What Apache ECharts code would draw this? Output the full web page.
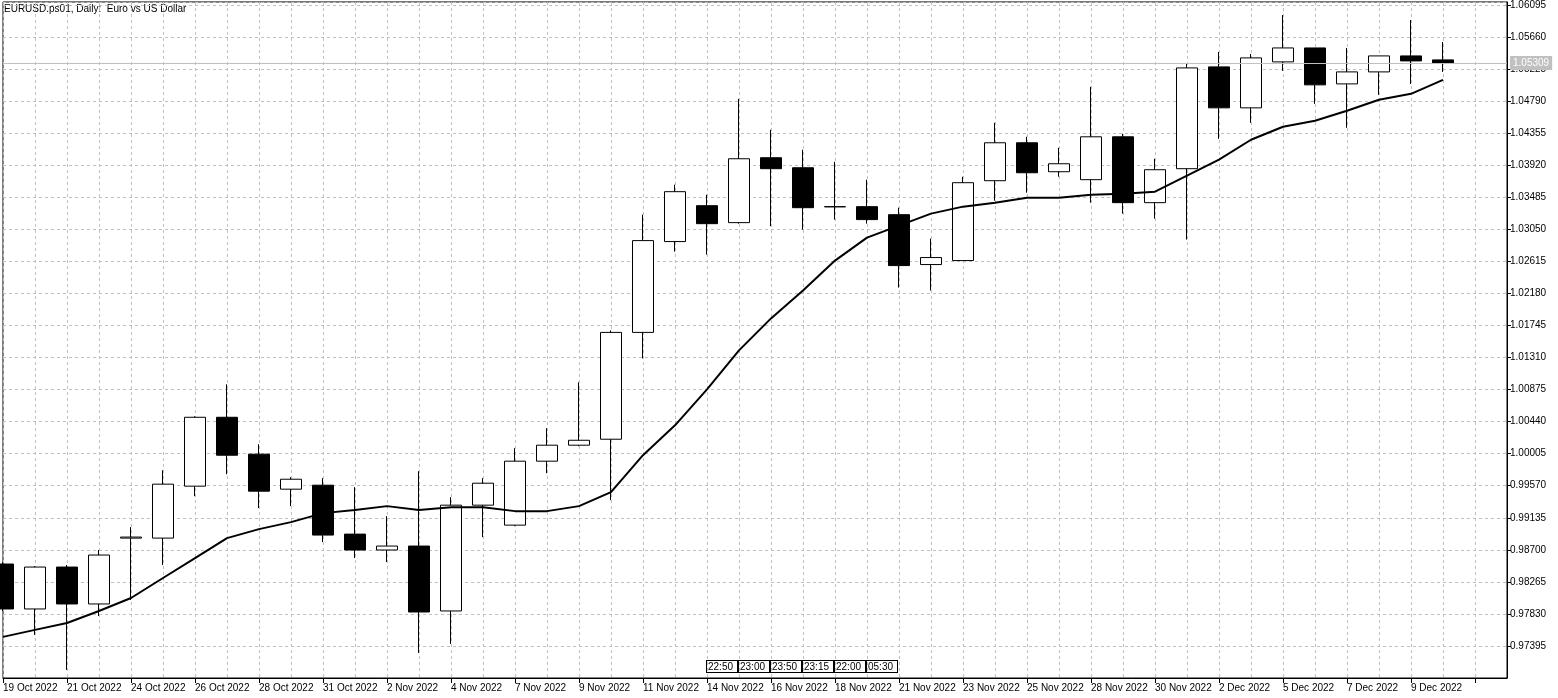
<!DOCTYPE html>
<html>
<head>
<meta charset="utf-8">
<script src="https://cdn.jsdelivr.net/npm/echarts@6/dist/echarts.min.js"></script>
<style>
  html, body { margin: 0; padding: 0; background: #fff; }
  #chart { width: 1558px; height: 698px; }
</style>
</head>
<body>
<div id="chart"></div>
<script>
// daily bars, EURUSD
const dates = [
  '19 Oct 2022', '20 Oct 2022', '21 Oct 2022', '23 Oct 2022', '24 Oct 2022', '25 Oct 2022',
  '26 Oct 2022', '27 Oct 2022', '28 Oct 2022', '30 Oct 2022', '31 Oct 2022', '1 Nov 2022',
  '2 Nov 2022', '3 Nov 2022', '4 Nov 2022', '6 Nov 2022', '7 Nov 2022', '8 Nov 2022',
  '9 Nov 2022', '10 Nov 2022', '11 Nov 2022', '13 Nov 2022', '14 Nov 2022', '15 Nov 2022',
  '16 Nov 2022', '17 Nov 2022', '18 Nov 2022', '20 Nov 2022', '21 Nov 2022', '22 Nov 2022',
  '23 Nov 2022', '24 Nov 2022', '25 Nov 2022', '27 Nov 2022', '28 Nov 2022', '29 Nov 2022',
  '30 Nov 2022', '1 Dec 2022', '2 Dec 2022', '4 Dec 2022', '5 Dec 2022', '6 Dec 2022',
  '7 Dec 2022', '8 Dec 2022', '9 Dec 2022', '11 Dec 2022', '', ''
];
const opens  = [0.98507, 0.97897, 0.98466, 0.97965, 0.98859, 0.98859, 0.99564, 1.00499, 0.99998, 0.99523,
  0.99577, 0.98913, 0.98697, 0.98751, 0.97870, 0.99306, 0.99035, 0.99903, 1.00120, 1.00201,
  1.01651, 1.02884, 1.03371, 1.03141, 1.04022, 1.03886, 1.03358, 1.03358, 1.03249, 1.02572,
  1.02626, 1.03710, 1.04225, 1.03832, 1.03724, 1.04306, 1.03412, 1.03873, 1.05255, 1.04699,
  1.05323, 1.05512, 1.05024, 1.05187, 1.05404, 1.05350];
const highs  = [0.98534, 0.98480, 0.98493, 0.98697, 0.99008, 0.99780, 1.00512, 1.00946, 1.00133, 0.99686,
  0.99672, 0.99550, 0.99157, 0.99767, 0.99414, 0.99672, 1.00079, 1.00350, 1.00973, 1.01678,
  1.03249, 1.03656, 1.03520, 1.04821, 1.04401, 1.04130, 1.03967, 1.03724, 1.03344, 1.02924,
  1.03764, 1.04496, 1.04306, 1.04157, 1.04984, 1.04347, 1.04008, 1.05295, 1.05458, 1.05431,
  1.05959, 1.05512, 1.05512, 1.05404, 1.05892, 1.05593];
const lows   = [0.97870, 0.97545, 0.97070, 0.97802, 0.98019, 0.98493, 0.99428, 0.99726, 0.99266, 0.99293,
  0.98805, 0.98588, 0.98534, 0.97301, 0.97423, 0.98873, 0.99021, 0.99740, 1.00106, 0.99374,
  1.01298, 1.02748, 1.02707, 1.03127, 1.03093, 1.03046, 1.03182, 1.03127, 1.02260, 1.02220,
  1.02626, 1.03439, 1.03547, 1.03764, 1.03412, 1.03263, 1.03195, 1.02911, 1.04279, 1.04496,
  1.05201, 1.04753, 1.04428, 1.04875, 1.05024, 1.05187];
const closes = [0.97897, 0.98466, 0.97965, 0.98629, 0.98873, 0.99591, 1.00499, 0.99984, 0.99496, 0.99658,
  0.98900, 0.98697, 0.98751, 0.97856, 0.99306, 0.99604, 0.99903, 1.00120, 1.00187, 1.01651,
  1.02897, 1.03561, 1.03127, 1.04008, 1.03873, 1.03344, 1.03355, 1.03182, 1.02558, 1.02667,
  1.03683, 1.04225, 1.03818, 1.03940, 1.04306, 1.03412, 1.03859, 1.05241, 1.04699, 1.05377,
  1.05512, 1.05011, 1.05187, 1.05404, 1.05336, 1.05309];
const maValues = [0.97518, 0.97613, 0.97707, 0.97870, 0.98046, 0.98317, 0.98588, 0.98859, 0.98981, 0.99076,
  0.99198, 0.99239, 0.99293, 0.99239, 0.99279, 0.99279, 0.99225, 0.99225, 0.99293, 0.99482,
  0.99984, 1.00390, 1.00878, 1.01407, 1.01841, 1.02220, 1.02626, 1.02938, 1.03100, 1.03263,
  1.03358, 1.03412, 1.03480, 1.03480, 1.03520, 1.03534, 1.03561, 1.03778, 1.03995, 1.04266,
  1.04442, 1.04523, 1.04659, 1.04808, 1.04889, 1.05079];
const lastPrice = 1.05309;
const timeMarks = ['22:50', '23:00', '23:50', '23:15', '22:00', '05:30'];

const ohlc = opens.map((o, i) => [o, closes[i], lows[i], highs[i]]);
const font = 'Liberation Sans, Arial, sans-serif';

const chart = echarts.init(document.getElementById('chart'));
chart.setOption({
  animation: false,
  backgroundColor: '#fff',
  grid: { left: 3, right: 51, top: 1, bottom: 20, show: true, borderColor: '#000', borderWidth: 1 },
  xAxis: {
    type: 'category',
    data: dates,
    boundaryGap: false,
    axisLine: { lineStyle: { color: '#000' } },
    axisTick: { interval: 1, length: 5, lineStyle: { color: '#000' } },
    axisLabel: { interval: 1, align: 'left', margin: 5, fontSize: 10, color: '#000', fontFamily: font },
    splitLine: { show: true, interval: 0, lineStyle: { color: '#c0c0c0', type: [3, 3] } }
  },
  yAxis: {
    type: 'value',
    position: 'right',
    min: 0.96960,
    max: 1.06136,
    interval: 0.00435,
    axisLine: { show: true, lineStyle: { color: '#000' } },
    axisTick: { show: true, length: 4, lineStyle: { color: '#000' } },
    axisLabel: {
      showMinLabel: false, showMaxLabel: false, margin: 3, fontSize: 10, color: '#000', fontFamily: font,
      formatter: v => v.toFixed(5)
    },
    splitLine: { show: true, lineStyle: { color: '#c0c0c0', type: [3, 3] } }
  },
  series: [
    {
      type: 'candlestick',
      data: ohlc,
      barWidth: 21,
      clip: false,
      itemStyle: { color: '#fff', color0: '#000', borderColor: '#000', borderColor0: '#000', borderWidth: 1 }
    },
    {
      type: 'line',
      data: maValues,
      showSymbol: false,
      lineStyle: { color: '#000', width: 2 },
      z: 3,
      markLine: {
        silent: true,
        symbol: 'none',
        data: [[{ coord: [0, lastPrice] }, { coord: [dates.length - 1, lastPrice] }]],
        lineStyle: { color: '#c0c0c0', type: 'solid', width: 1 },
        label: {
          position: 'end', distance: 3, formatter: lastPrice.toFixed(5),
          backgroundColor: '#c0c0c0', color: '#fff', fontSize: 10, fontFamily: font, padding: [2, 3]
        }
      }
    }
  ],
  graphic: [
    { type: 'text', left: 4, top: 4, style: { text: 'EURUSD.ps01, Daily:  Euro vs US Dollar', fontSize: 10, fill: '#000', fontFamily: font } }
  ].concat(timeMarks.map((t, i) => ({
    type: 'text', x: 707 + 32 * i, y: 661,
    style: {
      text: t, fontSize: 10, fill: '#000', fontFamily: font,
      backgroundColor: '#fff', borderColor: '#000', borderWidth: 1, padding: [1, 4, 0, 1]
    }
  })))
});
window.addEventListener('resize', () => chart.resize());
</script>
</body>
</html>
